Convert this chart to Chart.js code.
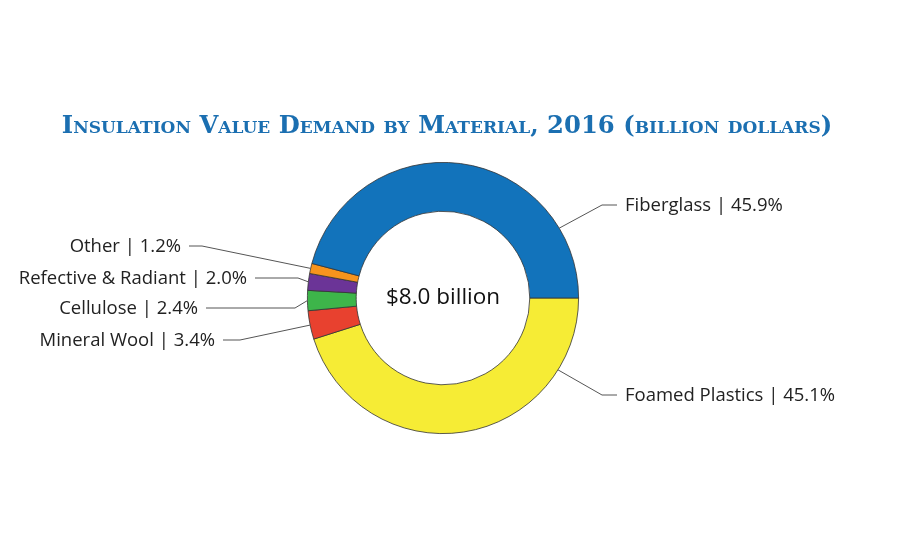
<!DOCTYPE html>
<html>
<head>
<meta charset="utf-8">
<script src="https://cdn.jsdelivr.net/npm/chart.js@4.4.1/dist/chart.umd.min.js"></script>
<style>
  html, body { margin: 0; padding: 0; background: #fff; }
  #wrap { position: relative; width: 900px; height: 550px; }
  #titulo {
    position: absolute; left: 0; top: 110px; width: 894px; text-align: center;
    font-family: "DejaVu Serif", serif; font-weight: bold; font-variant: small-caps;
    font-size: 24.3px; color: #1b6fb1; margin: 0;
  }
</style>
</head>
<body>
<div id="wrap">
  <h1 id="titulo">Insulation Value Demand by Material, 2016 (billion dollars)</h1>
  <canvas id="grafica" width="900" height="550"></canvas>
</div>
<script>
const materiales = ['Foamed Plastics', 'Mineral Wool', 'Cellulose', 'Refective & Radiant', 'Other', 'Fiberglass'];
const porcentajes = [45.1, 3.4, 2.4, 2.0, 1.2, 45.9];
const colores = ['#f6ec35', '#e8412f', '#3db54a', '#6b3497', '#f7941d', '#1273bb'];
const textoCentro = '$8.0 billion';

// layout de etiquetas: lado, y del texto, borde del texto, codo de la linea, angulo fijo (grados) o null
const posEtiquetas = [
    { lado: 'der', y: 395, x: 625, codo: 602, ang: 32 },
    { lado: 'izq', y: 340, x: 215, codo: 240, ang: null },
    { lado: 'izq', y: 308, x: 198, codo: 295, ang: null },
    { lado: 'izq', y: 278, x: 247, codo: 298, ang: null },
    { lado: 'izq', y: 246, x: 181, codo: 202, ang: null },
    { lado: 'der', y: 205, x: 625, codo: 602, ang: -31 }
];

const etiquetasPlugin = {
    id: 'etiquetas',
    afterDraw(chart) {
        const ctx = chart.ctx;
        const arcos = chart.getDatasetMeta(0).data;
        ctx.save();
        ctx.font = '18.5px "Open Sans", sans-serif';
        ctx.textBaseline = 'middle';
        arcos.forEach((arco, i) => {
            const p = posEtiquetas[i];
            const ang = p.ang !== null ? p.ang * Math.PI / 180 : (arco.startAngle + arco.endAngle) / 2;
            const x0 = arco.x + Math.cos(ang) * arco.outerRadius;
            const y0 = arco.y + Math.sin(ang) * arco.outerRadius;
            const texto = materiales[i] + ' | ' + porcentajes[i].toFixed(1) + '%';
            ctx.strokeStyle = '#555';
            ctx.lineWidth = 1;
            ctx.beginPath();
            ctx.moveTo(x0, y0);
            ctx.lineTo(p.codo, p.y);
            if (p.lado === 'der') {
                ctx.lineTo(p.x - 8, p.y);
                ctx.stroke();
                ctx.textAlign = 'left';
            } else {
                ctx.lineTo(p.x + 8, p.y);
                ctx.stroke();
                ctx.textAlign = 'right';
            }
            ctx.fillStyle = '#222';
            ctx.fillText(texto, p.x, p.y + 1);
        });
        // texto del centro
        const a = arcos[0];
        ctx.font = '22.5px "Open Sans", sans-serif';
        ctx.fillStyle = '#111';
        ctx.textAlign = 'center';
        ctx.fillText(textoCentro, a.x, a.y);
        ctx.restore();
    }
};

new Chart(document.getElementById('grafica').getContext('2d'), {
    type: 'doughnut',
    data: {
        labels: materiales,
        datasets: [{
            data: porcentajes,
            backgroundColor: colores,
            borderColor: '#333',
            borderWidth: 0.8
        }]
    },
    options: {
        responsive: false,
        animation: false,
        rotation: 90,
        cutout: '64%',
        layout: { padding: { left: 307, right: 321, top: 162, bottom: 116 } },
        plugins: {
            legend: { display: false },
            tooltip: { enabled: false }
        }
    },
    plugins: [etiquetasPlugin]
});
</script>
</body>
</html>
